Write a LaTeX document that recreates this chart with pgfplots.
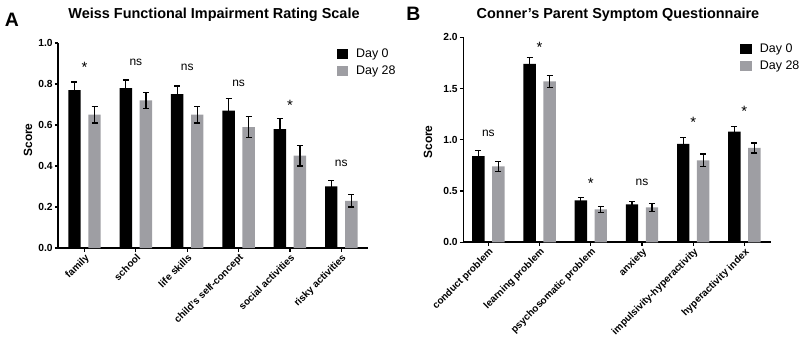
\documentclass[border=0pt]{standalone}
\usepackage{fontspec}
\setmainfont{Liberation Sans}
\usepackage{pgfplots}
\pgfplotsset{compat=1.18}
\definecolor{barg}{RGB}{158,158,163}

\pgfplotsset{
  panel/.style={
    scale only axis,
    axis lines*=left,
    axis line style={line width=1.6bp, -},
    tick style={line width=1.2bp, black},
    tick align=outside,
    major tick length=3.5bp,
    clip=false,
    ymin=0,
    xtick={0,...,5},
    xticklabel style={rotate=45, anchor=north east, font=\fontsize{10}{11}\selectfont\bfseries, inner sep=1bp},
    yticklabel style={font=\fontsize{10.3}{12}\selectfont\bfseries, inner sep=2bp},
    /pgf/number format/assume math mode=true,
    /pgf/number format/fixed,
    /pgf/number format/fixed zerofill,
    /pgf/number format/precision=1,
    legend style={draw=none, fill=none, font=\fontsize{12.5}{14}\selectfont, row sep=6.5bp, inner sep=0pt, anchor=north west,
      nodes={inner sep=0.5bp}},
    legend cell align=left,
    legend image code/.code={\fill[##1,draw=none] (0bp,-5bp) rectangle (11.5bp,5bp); \path (19bp,0bp);},
  },
  blk/.style={ybar, bar width=12.4bp, bar shift=0bp, fill=black, draw=none,
    error bars/.cd, y dir=both, y explicit,
    error bar style={line width=1.3bp, black},
    error mark options={rotate=90, mark size=3bp, line width=1.3bp, black}},
  gry/.style={ybar, bar width=12.4bp, bar shift=0bp, fill=barg, draw=none,
    error bars/.cd, y dir=both, y explicit,
    error bar style={line width=1.3bp, black},
    error mark options={rotate=90, mark size=3bp, line width=1.3bp, black}},
  sig/.style={draw=none, mark=none, forget plot, nodes near coords, point meta=explicit symbolic,
    every node near coord/.append style={anchor=base, font=\fontsize{12}{14}\selectfont, inner sep=0pt}},
  star/.style={draw=none, mark=none, forget plot, nodes near coords, point meta=explicit symbolic,
    every node near coord/.append style={anchor=base, font=\fontsize{15}{16}\selectfont, inner sep=0pt}},
}

\begin{document}
\begin{tikzpicture}
\path[use as bounding box] (0,0) rectangle (800bp,344bp);

% Panel A
\begin{axis}[panel,
  at={(58.3bp,96bp)}, anchor=south west,
  width=309.7bp, height=205bp,
  xmin=-0.51, xmax=5.52, ymax=1.0,
  ytick={0,0.2,0.4,0.6,0.8,1.0},
  xticklabels={family, school, life skills, child’s self-concept, social activities, risky activities},
  legend style={at={(0.898,0.977)}},
]
\addplot[blk] coordinates {(-0.195,0.77) +- (0,0.04) (0.805,0.78) +- (0,0.04) (1.805,0.75) +- (0,0.04) (2.805,0.67) +- (0,0.06) (3.805,0.58) +- (0,0.05) (4.805,0.30) +- (0,0.03)};
\addplot[gry] coordinates {(0.195,0.65) +- (0,0.04) (1.195,0.72) +- (0,0.04) (2.195,0.65) +- (0,0.04) (3.195,0.59) +- (0,0.05) (4.195,0.45) +- (0,0.05) (5.195,0.23) +- (0,0.03)};
\addplot[sig] coordinates {(1,0.891) [ns] (2,0.866) [ns] (3,0.79) [ns] (5,0.398) [ns]};
\addplot[star] coordinates {(0,0.858) [*] (4,0.670) [*]};
\legend{Day 0, Day 28}
\end{axis}

% Panel B
\begin{axis}[panel,
  at={(463.3bp,101.7bp)}, anchor=south west,
  width=307.7bp, height=205bp,
  xmin=-0.49, xmax=5.52, ymax=2.0,
  ytick={0,0.5,1.0,1.5,2.0},
  xticklabels={conduct problem, learning problem, psychosomatic problem, anxiety, impulsivity-hyperactivity, hyperactivity index},
  legend style={at={(0.9,0.973)}},
]
\addplot[blk] coordinates {(-0.195,0.84) +- (0,0.055) (0.805,1.74) +- (0,0.06) (1.805,0.41) +- (0,0.03) (2.805,0.37) +- (0,0.03) (3.805,0.96) +- (0,0.06) (4.805,1.08) +- (0,0.05)};
\addplot[gry] coordinates {(0.195,0.74) +- (0,0.05) (1.195,1.57) +- (0,0.06) (2.195,0.32) +- (0,0.03) (3.195,0.34) +- (0,0.04) (4.195,0.80) +- (0,0.06) (5.195,0.92) +- (0,0.05)};
\addplot[sig] coordinates {(0,1.03) [ns] (3,0.556) [ns]};
\addplot[star] coordinates {(1,1.852) [*] (2,0.525) [*] (4,1.12) [*] (5,1.227) [*]};
\legend{Day 0, Day 28}
\end{axis}

% titles, panel letters, axis labels
\node[font=\fontsize{14.5}{16}\selectfont\bfseries] at (214bp,329bp) {Weiss Functional Impairment Rating Scale};
\node[font=\fontsize{14.5}{16}\selectfont\bfseries] at (618bp,329bp) {Conner’s Parent Symptom Questionnaire};
\node[font=\fontsize{19.5}{22}\selectfont\bfseries] at (12bp,324bp) {A};
\node[font=\fontsize{19.5}{22}\selectfont\bfseries] at (413.5bp,330bp) {B};
\node[font=\fontsize{12}{14}\selectfont\bfseries, rotate=90] at (28bp,204bp) {Score};
\node[font=\fontsize{12}{14}\selectfont\bfseries, rotate=90] at (428bp,202bp) {Score};
\end{tikzpicture}
\end{document}
